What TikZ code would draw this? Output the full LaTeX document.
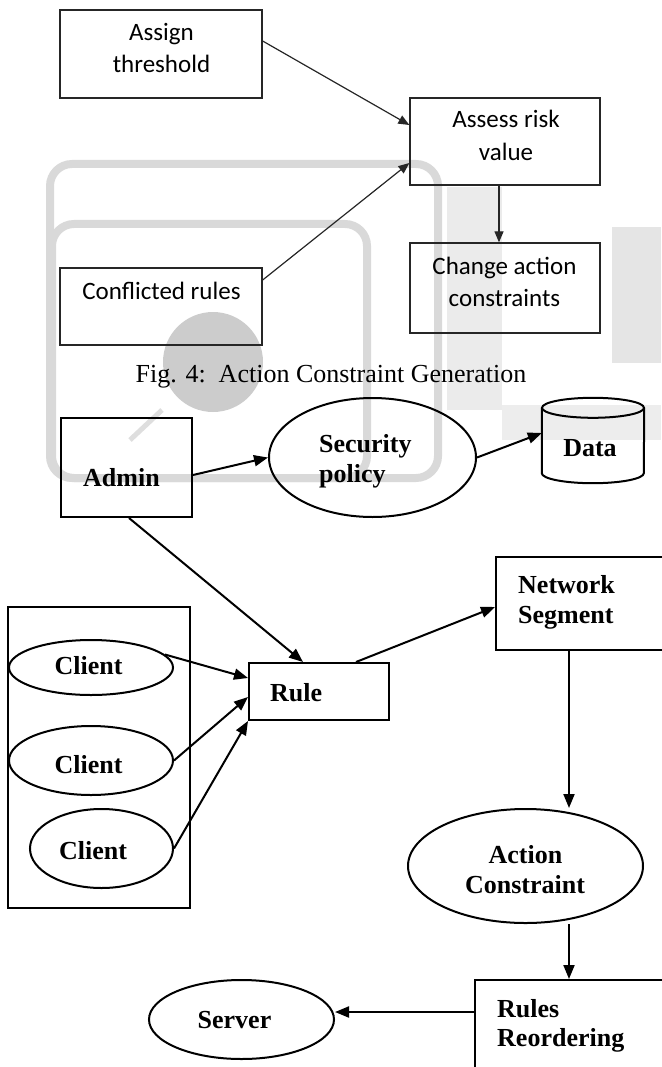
\documentclass[tikz,border=0pt]{standalone}
\usepackage{fontspec}
\setmainfont{Liberation Serif}
\newfontfamily\calibfont{Carlito}
\usetikzlibrary{arrows.meta,calc,shapes.geometric}
\begin{document}
\begin{tikzpicture}[x=1pt,y=-1pt,
  wm/.style={draw=black!15,line width=8pt,rounded corners=22pt},
  tbox/.style={draw=black!85,line width=1.3pt,inner sep=0pt,rectangle},
  ttext/.style={font=\calibfont\fontsize{25}{30}\selectfont,anchor=base,inner sep=0pt},
  tarrow/.style={draw=black!85,line width=1.2pt,-{Triangle[length=11pt,width=9pt]}},
  bbox/.style={draw=black,line width=2pt,inner sep=0pt,rectangle},
  bell/.style={draw=black,line width=2pt,inner sep=0pt,ellipse},
  btext/.style={font=\bfseries\fontsize{26}{30}\selectfont,anchor=base,inner sep=0pt},
  bltext/.style={btext,anchor=base west},
  barrow/.style={draw=black,line width=2pt,-{Triangle[length=14pt,width=11pt]}},
]
\useasboundingbox (0,0) rectangle (661,1067);

% watermark
\fill[black!8] (447,187) rectangle (502,410);
\fill[black!10] (612,227) rectangle (661,363);
\fill[black!7] (502,405) rectangle (661,440);
\draw[wm] (50,164) rectangle (438,478);
\draw[wm] (52,224) rectangle (367,478);
\fill[black!20] (213,362) circle[radius=50pt];
\draw[black!13,line width=5pt] (130,440) -- (162,410);

% ---------- top diagram ----------
\node[tbox,minimum width=202pt,minimum height=88pt] (at) at (161,54) {};
\node[tbox,minimum width=190pt,minimum height=87pt] (ar) at (505,141.5) {};
\node[tbox,minimum width=190pt,minimum height=90pt] (ca) at (505,288) {};
\node[tbox,minimum width=202pt,minimum height=77pt] (cr) at (161,306.5) {};

\node[ttext] (at1) at (161.5,40.7) {Assign};
\node[ttext] (at2) at (161.5,72.7) {threshold};
\node[ttext] (ar1) at (506,128) {Assess risk};
\node[ttext] (ar2) at (506,161) {value};
\node[ttext] (ca1) at (504.5,274) {Change action};
\node[ttext] (ca2) at (504.5,306) {constraints};
\node[ttext] (cr1) at (161.5,299) {Conflicted rules};

\draw[tarrow] ([yshift=13pt]at.east) -- ([yshift=16.5pt]ar.west);
\draw[tarrow] ([yshift=26.5pt]cr.east) -- ([yshift=-21.5pt]ar.west);
\draw[tarrow] ([xshift=-6pt]ar.south) -- ([xshift=-6pt]ca.north);

\node[font=\fontsize{26}{30}\selectfont,anchor=base,inner sep=0pt] (cap) at (331,382) {Fig. 4:\ \ Action Constraint Generation};

% ---------- bottom diagram ----------
\node[bbox,minimum width=131pt,minimum height=99pt] (ad) at (126.5,467.5) {};
\node[bell,minimum width=207pt,minimum height=119pt] (sp) at (372.5,457.5) {};
\node[minimum width=102pt,minimum height=85pt,inner sep=0pt] (data) at (593,440.5) {};
\draw[line width=2pt] ($(data.north)+(0,10)$) ellipse[x radius=51pt,y radius=10pt];
\draw[line width=2pt] ($(data.north west)+(0,10)$) -- ($(data.south west)+(0,-10)$)
  arc[start angle=180,end angle=360,x radius=51pt,y radius=10pt]
  -- ($(data.north east)+(0,10)$);

\node[bbox,minimum width=204pt,minimum height=93pt] (ns) at (598,603.5) {};
\node[bbox,minimum width=140pt,minimum height=57pt] (rule) at (319,691.5) {};
\node[draw=black,line width=1.5pt,rectangle,inner sep=0pt,minimum width=182pt,minimum height=301pt] (cont) at (99,757.5) {};
\node[bell,minimum width=164pt,minimum height=55pt] (c1) at (91,667.5) {};
\node[bell,minimum width=164pt,minimum height=69pt] (c2) at (91,760.5) {};
\node[bell,minimum width=143pt,minimum height=79pt] (c3) at (101.5,848.5) {};
\node[bell,minimum width=235pt,minimum height=114pt] (ac) at (525.5,866) {};
\node[bbox,minimum width=225pt,minimum height=110pt] (rr) at (587.5,1035) {};
\node[bell,minimum width=185pt,minimum height=79pt] (sv) at (241.5,1019.5) {};

\node[bltext] (adt) at (83,486) {Admin};
\node[bltext] (sp1) at (319,452) {Security};
\node[bltext] (sp2) at (319,482) {policy};
\node[btext] (dat) at (590,456) {Data};
\node[bltext] (ns1) at (518,593) {Network};
\node[bltext] (ns2) at (518,623) {Segment};
\node[bltext] (rut) at (270,701) {Rule};
\node[btext] (c1t) at (88.5,674) {Client};
\node[btext] (c2t) at (88.5,773) {Client};
\node[btext] (c3t) at (93,859) {Client};
\node[btext] (ac1) at (525.5,863) {Action};
\node[btext] (ac2) at (525,893) {Constraint};
\node[btext] (svt) at (234.5,1028) {Server};
\node[bltext] (rr1) at (497,1017) {Rules};
\node[bltext] (rr2) at (497,1046) {Reordering};

\coordinate (xc) at (569,0);

\draw[barrow] ([yshift=-7.5pt]ad.east) -- (sp.west);
\draw[barrow] (sp.east) -- ([yshift=7.5pt]data.west);
\draw[barrow] ([xshift=2.5pt]ad.south) -- ([xshift=-16pt]rule.north);
\draw[barrow] ([xshift=37pt]rule.north) -- ([yshift=-3.5pt]ns.west);
\draw[barrow] (c1.10) -- ([yshift=13.5pt]rule.west);
\draw[barrow] (c2.east) -- ([yshift=-5.5pt]rule.west);
\draw[barrow] (c3.east) -- (rule.south west);
\draw[barrow] (ns.south -| xc) -- (ac.north -| xc);
\draw[barrow] (ac.south -| xc) -- (rr.north -| xc);
\draw[barrow] ([yshift=23pt]rr.west) -- ([yshift=7.5pt]sv.east);
\end{tikzpicture}
\end{document}
